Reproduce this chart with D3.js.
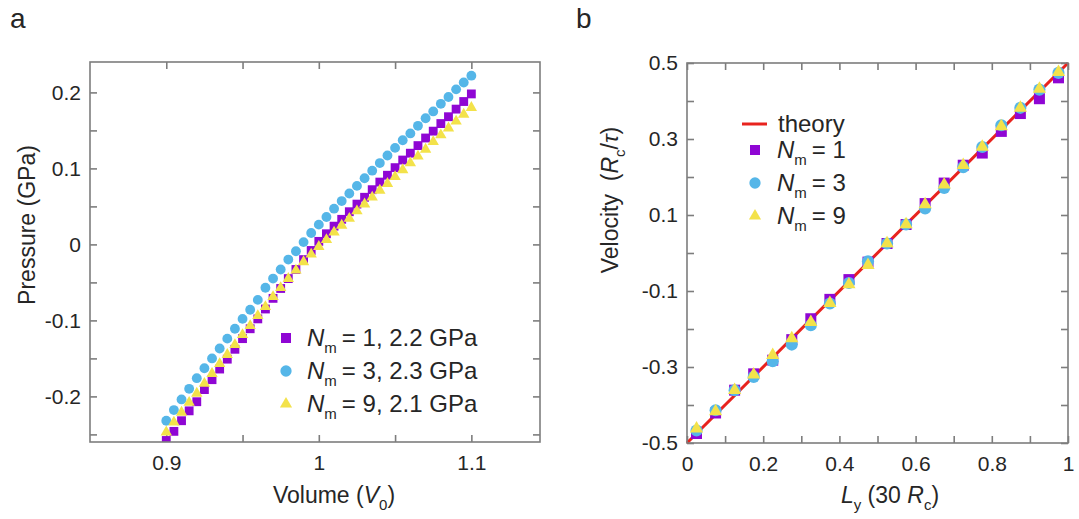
<html>
<head>
<script src="https://d3js.org/d3.v7.min.js"></script>
<style>
  body { margin: 0; background: #fff; }
  text { font-family: "Liberation Sans", Arial, sans-serif; fill: #262626; }
</style>
</head>
<body>
<svg width="1079" height="519"></svg>
<script>
// ---- panel a data: pressure vs volume ----
var volume = d3.range(41).map(function(i){ return +(0.9 + i*0.005).toFixed(3); });
var pressN1 = [-0.258,-0.246,-0.232,-0.219,-0.207,-0.191,-0.178,-0.164,-0.151,-0.138,
               -0.124,-0.111,-0.098,-0.085,-0.071,-0.058,-0.045,-0.033,-0.020,-0.008,
                0.004, 0.014, 0.024, 0.033, 0.043, 0.053, 0.062, 0.072, 0.082, 0.091,
                0.101, 0.111, 0.120, 0.130, 0.140, 0.149, 0.159, 0.168, 0.178, 0.188, 0.198];
var pressN3 = [-0.232,-0.218,-0.204,-0.190,-0.176,-0.163,-0.150,-0.137,-0.124,-0.111,
               -0.098,-0.086,-0.073,-0.057,-0.045,-0.033,-0.020,-0.009, 0.003, 0.015,
                0.026, 0.036, 0.047, 0.057, 0.067, 0.077, 0.087, 0.097, 0.107, 0.117,
                0.127, 0.137, 0.146, 0.156, 0.166, 0.175, 0.185, 0.194, 0.204, 0.213, 0.222];
var pressN9 = [-0.247,-0.234,-0.221,-0.208,-0.196,-0.183,-0.170,-0.157,-0.145,-0.132,
               -0.119,-0.107,-0.094,-0.082,-0.069,-0.057,-0.045,-0.034,-0.023,-0.013,
               -0.003, 0.006, 0.016, 0.025, 0.034, 0.044, 0.053, 0.062, 0.071, 0.080,
                0.089, 0.098, 0.107, 0.116, 0.125, 0.135, 0.144, 0.153, 0.162, 0.171, 0.180];
var legendA = ["= 1, 2.2 GPa", "= 3, 2.3 GPa", "= 9, 2.1 GPa"];

// ---- panel b data: velocity profile ----
var ly = d3.range(20).map(function(i){ return +(0.025 + i*0.05).toFixed(3); });
var velN1 = [-0.475,-0.421,-0.361,-0.318,-0.282,-0.228,-0.173,-0.122,-0.070,-0.024,
              0.025, 0.075, 0.130, 0.184, 0.231, 0.263, 0.320, 0.367, 0.406, 0.461];
var velN3 = [-0.467,-0.414,-0.361,-0.326,-0.285,-0.241,-0.190,-0.133,-0.079,-0.022,
              0.025, 0.075, 0.117, 0.171, 0.226, 0.279, 0.336, 0.382, 0.430, 0.474];
var velN9 = [-0.462,-0.417,-0.361,-0.320,-0.269,-0.225,-0.182,-0.132,-0.083,-0.032,
              0.025, 0.075, 0.128, 0.180, 0.231, 0.279, 0.333, 0.382, 0.432, 0.476];
var theoryX = [0, 1];
var theoryV = [-0.5, 0.5];
var legendB = ["= 1", "= 3", "= 9"];

var purple = "#8f06d4", blue = "#55b6e8", yellow = "#f3e24a", red = "#e8231e";
var frameColor = "#7d7d7d";

var svg = d3.select("svg");

function frame(g, w, h){
  g.append("rect").attr("x",0).attr("y",0).attr("width",w).attr("height",h)
    .attr("fill","none").attr("stroke",frameColor).attr("stroke-width",1.6);
}
function styleAxis(sel){
  sel.select(".domain").remove();
  sel.selectAll(".tick line").attr("stroke",frameColor).attr("stroke-width",1.6);
  sel.selectAll(".tick text").attr("font-size",21).attr("fill","#262626")
    .attr("font-family","Liberation Sans, Arial, sans-serif");
}
function sym(type, size){ return d3.symbol().type(type).size(size)(); }
function num(d){ return String(+d.toFixed(1)); }   // plain hyphen minus, like the original

// ================= panel a =================
var a = {left:90, top:62, right:540, bottom:442};
var wa = a.right-a.left, ha = a.bottom-a.top;
var xa = d3.scaleLinear().domain([0.85,1.145]).range([0,wa]);
var ya = d3.scaleLinear().domain([-0.26,0.24]).range([ha,0]);
var ga = svg.append("g").attr("transform","translate("+a.left+","+a.top+")");

var xTicksA = [0.9,0.95,1,1.05,1.1];
var yTicksA = [-0.25,-0.2,-0.15,-0.1,-0.05,0,0.05,0.1,0.15,0.2];
var fmtA = function(d){ return (Math.abs(d*10-Math.round(d*10))<1e-6) ? num(d) : ""; };

ga.append("g").attr("transform","translate(0,"+ha+")")
  .call(d3.axisBottom(xa).tickValues(xTicksA).tickSize(-7).tickPadding(13).tickFormat(fmtA))
  .call(styleAxis);
ga.append("g")
  .call(d3.axisTop(xa).tickValues(xTicksA).tickSize(-7).tickFormat(""))
  .call(styleAxis);
ga.append("g")
  .call(d3.axisLeft(ya).tickValues(yTicksA).tickSize(-7).tickPadding(9).tickFormat(fmtA))
  .call(styleAxis);
ga.append("g").attr("transform","translate("+wa+",0)")
  .call(d3.axisRight(ya).tickValues(yTicksA).tickSize(-7).tickFormat(""))
  .call(styleAxis);

svg.append("clipPath").attr("id","clipA").append("rect")
  .attr("width",wa).attr("height",ha);
var pa = ga.append("g").attr("clip-path","url(#clipA)");

function seriesA(vals, shape, size, color){
  pa.append("g").selectAll("path").data(vals).enter().append("path")
    .attr("d", sym(shape,size))
    .attr("transform", function(d,i){ return "translate("+xa(volume[i])+","+ya(d)+")"; })
    .attr("fill", color);
}
seriesA(pressN1, d3.symbolSquare, 78, purple);
seriesA(pressN3, d3.symbolCircle, 76, blue);
seriesA(pressN9, d3.symbolTriangle, 56, yellow);
frame(ga, wa, ha);

// legend a
var legA = svg.append("g");
var legShapes = [[d3.symbolSquare,100,purple],[d3.symbolCircle,100,blue],[d3.symbolTriangle,64,yellow]];
legendA.forEach(function(t,i){
  var y = 338 + i*33;
  legA.append("path").attr("d", sym(legShapes[i][0],legShapes[i][1]))
    .attr("transform","translate(286,"+y+")").attr("fill",legShapes[i][2]);
  var tx = legA.append("text").attr("x",307).attr("y",y+8).attr("font-size",24);
  tx.append("tspan").attr("font-style","italic").text("N");
  tx.append("tspan").attr("font-size",15).attr("dy",7).text("m");
  tx.append("tspan").attr("dy",-7).attr("dx",5).text(t);
});

// titles a
var xtA = svg.append("text").attr("x",334).attr("y",503).attr("text-anchor","middle").attr("font-size",23);
xtA.append("tspan").text("Volume (");
xtA.append("tspan").attr("font-style","italic").text("V");
xtA.append("tspan").attr("font-size",15).attr("dy",7).text("0");
xtA.append("tspan").attr("dy",-7).text(")");
svg.append("text").attr("transform","translate(35,225) rotate(-90)")
  .attr("text-anchor","middle").attr("font-size",23).text("Pressure (GPa)");
svg.append("text").attr("x",10).attr("y",28).attr("font-size",28).text("a");

// ================= panel b =================
var b = {left:687, top:63, right:1068, bottom:443};
var wb = b.right-b.left, hb = b.bottom-b.top;
var xb = d3.scaleLinear().domain([0,1]).range([0,wb]);
var yb = d3.scaleLinear().domain([-0.5,0.5]).range([hb,0]);
var gb = svg.append("g").attr("transform","translate("+b.left+","+b.top+")");

var xTicksB = d3.range(11).map(function(i){ return +(i*0.1).toFixed(1); });
var yTicksB = d3.range(11).map(function(i){ return +(-0.5+i*0.1).toFixed(1); });
var fmtBx = function(d){ return (Math.round(d*10)%2===0) ? num(d) : ""; };
var fmtBy = function(d){ return (Math.round(Math.abs(d)*10)%2===1) ? num(d) : ""; };

gb.append("g").attr("transform","translate(0,"+hb+")")
  .call(d3.axisBottom(xb).tickValues(xTicksB).tickSize(-7).tickPadding(13).tickFormat(fmtBx))
  .call(styleAxis);
gb.append("g")
  .call(d3.axisTop(xb).tickValues(xTicksB).tickSize(-7).tickFormat(""))
  .call(styleAxis);
gb.append("g")
  .call(d3.axisLeft(yb).tickValues(yTicksB).tickSize(-7).tickPadding(9).tickFormat(fmtBy))
  .call(styleAxis);
gb.append("g").attr("transform","translate("+wb+",0)")
  .call(d3.axisRight(yb).tickValues(yTicksB).tickSize(-7).tickFormat(""))
  .call(styleAxis);

var line = d3.line().x(function(d,i){ return xb(theoryX[i]); }).y(function(d){ return yb(d); });
gb.append("path").datum(theoryV).attr("d",line)
  .attr("fill","none").attr("stroke",red).attr("stroke-width",3);

function seriesB(vals, shape, size, color){
  gb.append("g").selectAll("path").data(vals).enter().append("path")
    .attr("d", sym(shape,size))
    .attr("transform", function(d,i){ return "translate("+xb(ly[i])+","+yb(d)+")"; })
    .attr("fill", color);
}
seriesB(velN1, d3.symbolSquare, 121, purple);
seriesB(velN3, d3.symbolCircle, 115, blue);
seriesB(velN9, d3.symbolTriangle, 76, yellow);
frame(gb, wb, hb);

// legend b
var legB = svg.append("g");
legB.append("line").attr("x1",742).attr("x2",767).attr("y1",124).attr("y2",124)
  .attr("stroke",red).attr("stroke-width",3);
legB.append("text").attr("x",778).attr("y",132).attr("font-size",24).text("theory");
legendB.forEach(function(t,i){
  var y = 150 + i*33;
  legB.append("path").attr("d", sym(legShapes[i][0],legShapes[i][1]))
    .attr("transform","translate(755,"+y+")").attr("fill",legShapes[i][2]);
  var tx = legB.append("text").attr("x",777).attr("y",y+8).attr("font-size",24);
  tx.append("tspan").attr("font-style","italic").text("N");
  tx.append("tspan").attr("font-size",15).attr("dy",7).text("m");
  tx.append("tspan").attr("dy",-7).attr("dx",5).text(t);
});

// titles b
var xtB = svg.append("text").attr("x",890).attr("y",503).attr("text-anchor","middle").attr("font-size",23);
xtB.append("tspan").attr("font-style","italic").text("L");
xtB.append("tspan").attr("font-size",15).attr("dy",7).text("y");
xtB.append("tspan").attr("dy",-7).text(" (30 ");
xtB.append("tspan").attr("font-style","italic").text("R");
xtB.append("tspan").attr("font-size",15).attr("dy",7).text("c");
xtB.append("tspan").attr("dy",-7).text(")");
var ytB = svg.append("text").attr("transform","translate(618,200) rotate(-90)")
  .attr("text-anchor","middle").attr("font-size",23).style("white-space","pre");
ytB.append("tspan").text("Velocity  (");
ytB.append("tspan").attr("font-style","italic").text("R");
ytB.append("tspan").attr("font-size",15).attr("dy",7).text("c");
ytB.append("tspan").attr("dy",-7).text("/");
ytB.append("tspan").attr("font-style","italic").text("τ");
ytB.append("tspan").text(")");
svg.append("text").attr("x",576).attr("y",28).attr("font-size",28).text("b");
</script>
</body>
</html>
